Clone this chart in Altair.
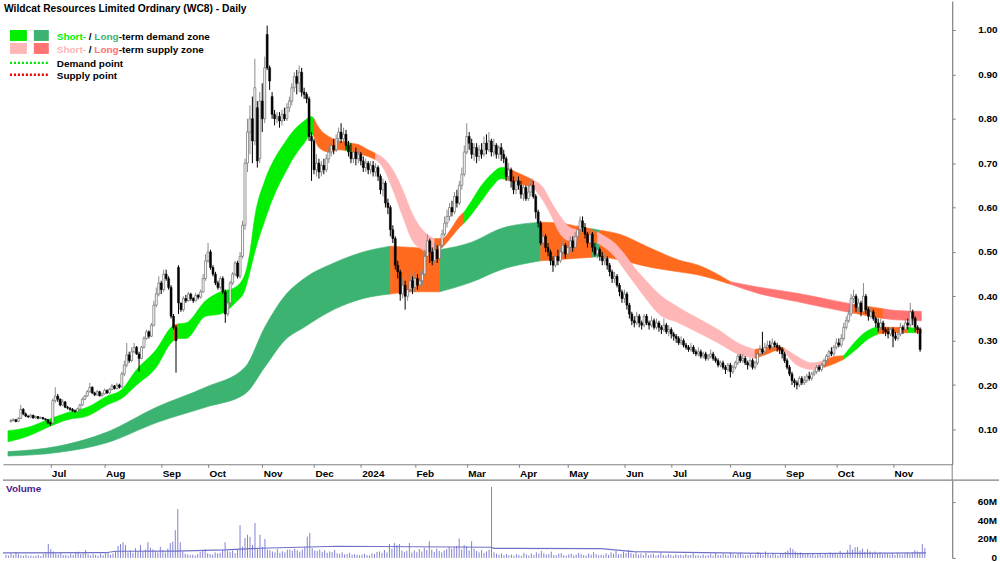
import altair as alt
import pandas as pd

# ---------------- data (prices in cents, volume in millions) ----------------
OPEN = [11.8, 12.0, 12.2, 11.8, 12.5, 14.5, 13.5, 13.0, 12.8, 13.2,
        12.6, 12.9, 12.5, 12.7, 12.4, 12.2, 11.5, 11.4, 16.5, 17.5,
        16.8, 15.5, 16.2, 15.0, 14.8, 14.5, 14.2, 14.0, 14.6, 15.5,
        16.8, 17.5, 18.5, 19.5, 18.2, 17.8, 18.5, 17.6, 18.0, 18.8,
        18.2, 19.0, 19.8, 19.2, 20.0, 19.6, 22.5, 24.5, 26.8, 25.5,
        27.5, 28.5, 27.0, 26.0, 28.5, 30.5, 32.0, 31.0, 33.5, 38.0,
        40.5, 43.0, 41.5, 45.0, 44.0, 42.0, 35.5, 33.0, 46.5, 38.5,
        37.0, 39.5, 39.0, 40.5, 39.5, 39.0, 40.2, 39.8, 41.0, 44.0,
        48.0, 50.0, 46.5, 45.0, 43.0, 42.0, 44.0, 41.0, 36.0, 38.5,
        43.0, 45.0, 47.5, 44.5, 49.0, 56.0, 70.0, 77.0, 80.0, 75.0,
        82.5, 71.0, 84.0, 80.0, 99.0, 91.5, 85.0, 81.0, 80.0, 80.5,
        79.5, 81.0, 80.0, 82.5, 84.0, 87.0, 89.5, 88.0, 90.5, 86.0,
        85.5, 84.5, 76.0, 75.0, 68.5, 70.0, 68.0, 69.5, 68.5, 71.0,
        72.5, 74.0, 73.0, 75.5, 77.0, 75.5, 76.5, 74.0, 72.5, 71.0,
        72.5, 71.0, 72.0, 70.5, 69.0, 70.0, 68.5, 69.5, 68.0, 69.0,
        67.0, 64.0, 65.5, 61.0, 60.0, 55.0, 53.0, 47.0, 45.5, 40.5,
        42.5, 40.0, 41.5, 43.5, 42.0, 44.0, 42.5, 43.5, 45.0, 49.0,
        52.5, 50.0, 48.0, 50.5, 48.5, 51.5, 54.0, 56.5, 58.0, 60.0,
        59.0, 62.5, 61.0, 65.0, 67.5, 72.5, 76.0, 74.5, 72.0, 73.5,
        71.5, 73.0, 72.0, 74.5, 73.0, 75.0, 72.5, 74.0, 72.0, 73.5,
        72.0, 71.0, 67.0, 68.5, 66.0, 64.0, 66.0, 65.0, 63.0, 64.5,
        62.0, 63.5, 65.0, 62.5, 59.0, 56.5, 52.0, 53.5, 51.0, 50.0,
        48.0, 47.0, 49.0, 48.0, 50.0, 51.5, 49.5, 51.0, 52.5, 51.0,
        53.5, 55.0, 57.0, 55.5, 54.0, 52.0, 54.0, 51.0, 49.5, 50.5,
        49.0, 48.0, 48.5, 47.0, 45.5, 44.0, 44.5, 42.5, 41.0, 39.5,
        40.5, 38.0, 36.0, 34.5, 34.0, 35.5, 34.0, 33.5, 35.5, 34.0,
        33.5, 34.5, 33.0, 34.0, 33.0, 32.5, 33.5, 32.0, 32.5, 31.5,
        31.0, 30.5, 29.5, 30.0, 29.0, 28.5, 28.0, 28.5, 27.5, 27.0,
        27.5, 26.5, 27.0, 26.0, 26.5, 27.0, 26.0, 25.5, 24.5, 25.0,
        24.0, 23.5, 24.5, 23.0, 24.0, 25.0, 26.5, 25.5, 26.0, 25.0,
        24.5, 25.5, 24.0, 25.0, 27.0, 28.0, 27.5, 28.5, 29.0, 28.5,
        29.5, 29.0, 28.5, 28.0, 27.0, 25.5, 24.0, 22.5, 21.0, 20.5,
        20.0, 21.5, 20.5, 21.0, 22.0, 21.5, 22.5, 23.0, 24.0, 23.5,
        24.5, 25.5, 26.5, 27.5, 27.0, 28.5, 29.5, 29.0, 30.5, 33.0,
        34.5, 36.0, 39.5, 40.0, 37.5, 38.5, 36.5, 40.0, 37.0, 35.5,
        36.5, 35.0, 34.0, 33.0, 34.0, 32.5, 32.0, 31.5, 32.5, 31.0,
        30.5, 31.5, 33.0, 32.5, 34.0, 33.5, 36.5, 35.0, 33.0, 32.5]
HIGH = [12.4, 12.5, 12.3, 12.8, 15.5, 14.8, 13.8, 13.2, 13.5, 13.3,
        13.1, 13.0, 12.9, 12.8, 12.5, 12.3, 11.8, 17.0, 19.5, 18.0,
        17.0, 16.8, 16.4, 15.3, 15.0, 14.8, 14.5, 14.9, 15.8, 17.2,
        17.8, 18.9, 20.5, 19.7, 18.5, 18.9, 18.7, 18.3, 19.2, 19.0,
        19.3, 20.3, 20.0, 20.5, 20.3, 23.0, 25.5, 29.5, 27.5, 28.5,
        29.5, 28.8, 27.5, 28.8, 31.0, 32.5, 32.3, 34.0, 39.0, 42.0,
        44.5, 43.5, 46.0, 46.0, 44.5, 42.5, 36.0, 33.5, 47.0, 38.5,
        40.0, 40.3, 41.0, 40.8, 39.8, 40.8, 40.5, 41.5, 45.0, 49.5,
        52.0, 50.5, 47.0, 45.5, 43.5, 44.5, 44.5, 41.5, 39.0, 43.5,
        45.5, 48.0, 48.0, 50.0, 57.0, 71.0, 80.0, 83.0, 85.0, 93.5,
        84.0, 86.0, 88.0, 94.0, 101.0, 92.0, 86.0, 82.0, 81.5, 81.5,
        82.0, 82.5, 83.5, 85.0, 88.0, 90.5, 91.0, 92.0, 91.5, 87.0,
        86.0, 85.0, 77.0, 75.5, 72.0, 71.0, 70.5, 71.0, 72.0, 73.5,
        75.0, 75.5, 76.5, 78.0, 79.0, 78.0, 77.5, 75.0, 74.5, 73.5,
        73.5, 73.0, 72.5, 71.5, 71.0, 70.5, 70.5, 70.5, 70.0, 69.5,
        67.5, 66.5, 66.0, 62.0, 60.5, 56.0, 53.5, 48.0, 46.0, 44.0,
        43.5, 44.5, 45.0, 44.5, 45.5, 45.0, 45.5, 46.0, 50.5, 54.0,
        53.0, 51.0, 52.0, 51.5, 52.5, 55.0, 58.0, 59.5, 61.0, 61.5,
        63.5, 64.0, 66.0, 69.0, 74.0, 79.0, 77.0, 75.5, 74.5, 74.5,
        74.0, 74.5, 76.0, 76.5, 77.0, 75.5, 75.5, 74.5, 74.0, 74.5,
        73.0, 71.5, 70.0, 69.0, 67.0, 67.0, 67.0, 66.0, 65.5, 65.0,
        65.0, 66.5, 66.0, 63.0, 59.5, 57.0, 54.5, 54.0, 52.0, 50.5,
        49.0, 50.0, 50.5, 51.0, 52.5, 52.0, 52.0, 53.5, 53.5, 54.5,
        56.0, 58.0, 58.0, 56.5, 54.5, 55.0, 54.5, 52.0, 51.5, 51.0,
        50.0, 49.5, 49.0, 47.5, 46.0, 45.5, 45.0, 43.0, 41.5, 41.5,
        41.0, 38.5, 36.5, 35.5, 36.5, 36.0, 34.5, 36.0, 36.0, 34.5,
        35.5, 35.0, 35.0, 34.5, 33.5, 35.0, 34.0, 33.5, 33.0, 32.0,
        31.5, 31.0, 31.0, 30.5, 29.5, 29.0, 29.5, 29.0, 28.0, 28.5,
        28.0, 27.5, 27.5, 27.0, 28.0, 27.5, 26.5, 26.0, 25.5, 25.5,
        24.5, 25.0, 25.0, 24.5, 25.5, 27.0, 27.0, 27.0, 26.5, 25.5,
        26.0, 26.0, 25.5, 27.5, 29.0, 32.0, 29.5, 30.0, 30.0, 30.5,
        30.0, 29.5, 29.0, 28.5, 27.5, 26.0, 24.5, 23.0, 21.5, 21.0,
        22.0, 22.0, 22.0, 22.5, 23.0, 23.0, 23.5, 24.5, 24.5, 25.0,
        26.0, 27.0, 28.0, 28.5, 29.0, 30.5, 30.5, 31.5, 34.0, 35.5,
        37.0, 40.5, 41.5, 40.5, 39.5, 39.0, 43.0, 40.5, 37.5, 37.5,
        37.0, 35.5, 35.0, 35.0, 34.5, 33.0, 33.0, 33.0, 33.0, 32.0,
        32.5, 34.0, 33.5, 35.0, 35.0, 38.5, 37.0, 35.5, 33.5, 33.0]
LOW = [11.5, 11.8, 11.6, 11.7, 12.3, 13.2, 12.8, 12.6, 12.6, 12.4,
       12.4, 12.3, 12.4, 12.2, 12.0, 11.2, 10.8, 11.2, 16.0, 16.2,
       15.2, 15.3, 14.8, 14.5, 14.2, 14.0, 13.8, 13.9, 14.4, 15.3,
       16.6, 17.3, 18.3, 18.0, 17.5, 17.6, 17.4, 17.4, 17.8, 18.0,
       18.0, 18.8, 19.0, 19.0, 19.2, 19.4, 22.0, 24.0, 25.0, 25.2,
       27.2, 26.8, 23.0, 25.8, 28.2, 30.2, 30.5, 30.8, 33.2, 37.5,
       40.0, 40.5, 41.0, 43.5, 41.5, 35.0, 32.5, 22.8, 36.0, 36.5,
       36.5, 38.5, 38.8, 39.0, 38.5, 38.8, 39.3, 39.5, 40.8, 43.5,
       47.5, 46.0, 44.5, 42.5, 41.5, 41.5, 40.5, 34.0, 35.5, 38.0,
       42.5, 44.5, 44.0, 44.0, 48.5, 55.0, 68.0, 72.0, 70.0, 74.0,
       69.0, 70.0, 77.0, 79.0, 91.0, 86.5, 80.0, 78.5, 79.0, 78.0,
       78.5, 79.5, 79.5, 81.5, 83.0, 86.0, 85.5, 86.0, 85.0, 84.5,
       83.5, 75.0, 66.0, 67.5, 67.0, 66.5, 67.0, 67.5, 68.0, 70.0,
       71.5, 72.0, 72.5, 74.5, 74.5, 74.0, 73.0, 71.5, 70.0, 70.0,
       69.5, 70.0, 69.5, 68.0, 68.0, 67.5, 67.5, 67.0, 67.0, 66.0,
       63.0, 62.5, 60.0, 58.5, 53.5, 52.0, 46.0, 44.0, 39.0, 39.5,
       37.0, 39.0, 41.0, 40.5, 41.0, 41.5, 41.5, 42.5, 44.5, 48.0,
       47.5, 47.0, 47.5, 47.5, 48.0, 51.0, 53.5, 55.5, 57.0, 58.0,
       58.5, 60.0, 60.5, 64.0, 67.0, 72.0, 73.0, 71.0, 70.5, 70.0,
       70.5, 71.0, 71.5, 72.0, 72.5, 71.5, 71.5, 71.0, 71.0, 70.5,
       70.0, 66.0, 66.0, 64.5, 63.0, 63.0, 64.0, 62.0, 61.5, 61.5,
       61.5, 62.5, 62.0, 57.5, 55.5, 51.5, 51.0, 50.0, 49.0, 47.0,
       45.5, 46.5, 47.0, 47.5, 49.0, 48.5, 48.5, 50.0, 50.0, 50.5,
       52.5, 54.0, 54.5, 53.0, 51.0, 51.0, 50.0, 49.0, 48.5, 48.0,
       47.0, 47.0, 46.0, 44.5, 43.0, 43.0, 42.0, 40.0, 38.5, 38.5,
       37.0, 35.0, 33.5, 33.0, 33.5, 33.0, 32.5, 33.0, 33.5, 32.5,
       33.0, 32.5, 32.5, 32.0, 31.5, 32.0, 31.5, 31.0, 30.5, 30.0,
       29.5, 29.0, 29.0, 28.5, 28.0, 27.5, 27.5, 27.0, 26.5, 26.5,
       26.0, 26.0, 25.5, 25.5, 26.0, 25.5, 25.0, 24.0, 24.0, 23.5,
       22.5, 23.0, 21.7, 22.5, 23.5, 24.5, 25.0, 25.0, 24.5, 23.5,
       24.0, 23.5, 23.5, 24.5, 26.5, 27.0, 27.0, 28.0, 28.0, 28.0,
       28.5, 27.5, 27.0, 26.0, 25.0, 23.5, 22.0, 20.0, 19.5, 19.0,
       19.5, 20.0, 20.0, 20.5, 21.0, 21.0, 22.0, 22.5, 23.0, 23.0,
       24.0, 25.0, 26.0, 26.5, 26.5, 28.0, 28.5, 28.5, 30.0, 32.5,
       34.0, 35.5, 38.5, 36.5, 36.5, 35.5, 36.0, 36.0, 34.5, 35.0,
       34.5, 33.0, 32.0, 32.5, 31.5, 31.0, 30.5, 31.0, 28.5, 30.0,
       30.0, 31.0, 31.5, 32.0, 32.5, 33.0, 33.5, 32.0, 31.5, 27.5]
CLOSE = [12.0, 12.2, 11.8, 12.5, 14.5, 13.5, 13.0, 12.8, 13.2, 12.6,
         12.9, 12.5, 12.7, 12.4, 12.2, 11.5, 11.2, 16.5, 17.5, 16.8,
         15.5, 16.2, 15.0, 14.8, 14.5, 14.2, 14.0, 14.6, 15.5, 16.8,
         17.5, 18.5, 19.5, 18.2, 17.8, 18.5, 17.6, 18.0, 18.8, 18.2,
         19.0, 19.8, 19.2, 20.0, 19.5, 22.5, 24.5, 26.8, 25.5, 27.5,
         28.5, 27.0, 26.0, 28.5, 30.5, 32.0, 31.0, 33.5, 38.0, 40.5,
         43.0, 41.5, 45.0, 44.0, 42.0, 35.5, 33.0, 30.0, 38.5, 37.0,
         39.5, 39.0, 40.5, 39.5, 39.0, 40.2, 39.8, 41.0, 44.0, 48.0,
         50.0, 46.5, 45.0, 43.0, 42.0, 44.0, 41.0, 36.0, 38.5, 43.0,
         45.0, 47.5, 44.5, 49.0, 56.0, 70.0, 77.0, 80.0, 75.0, 87.0,
         70.5, 84.0, 80.0, 91.5, 91.5, 88.5, 81.0, 80.0, 80.5, 79.5,
         81.0, 80.0, 82.5, 84.0, 87.0, 89.5, 88.0, 90.5, 86.0, 85.5,
         84.5, 76.0, 75.0, 68.5, 70.0, 68.0, 69.5, 68.5, 71.0, 72.5,
         74.0, 73.0, 75.5, 77.0, 75.5, 76.5, 74.0, 72.5, 71.0, 72.5,
         71.0, 72.0, 70.5, 69.0, 70.0, 68.5, 69.5, 68.0, 69.0, 67.0,
         64.0, 65.5, 61.0, 60.0, 55.0, 53.0, 47.0, 45.5, 40.5, 42.5,
         40.0, 41.5, 43.5, 42.0, 44.0, 42.5, 43.5, 45.0, 49.0, 52.5,
         50.0, 48.0, 50.5, 48.5, 51.5, 54.0, 56.5, 58.0, 60.0, 59.0,
         62.5, 61.0, 65.0, 67.5, 72.5, 76.0, 74.5, 72.0, 73.5, 71.5,
         73.0, 72.0, 74.5, 73.0, 75.0, 72.5, 74.0, 72.0, 73.5, 72.0,
         71.0, 67.0, 68.5, 66.0, 64.0, 66.0, 65.0, 63.0, 64.5, 62.0,
         63.5, 65.0, 62.5, 59.0, 56.5, 52.0, 53.5, 51.0, 50.0, 48.0,
         47.0, 49.0, 48.0, 50.0, 51.5, 49.5, 51.0, 52.5, 51.0, 53.5,
         55.0, 57.0, 55.5, 54.0, 52.0, 54.0, 51.0, 49.5, 50.5, 49.0,
         48.0, 48.5, 47.0, 45.5, 44.0, 44.5, 42.5, 41.0, 39.5, 40.5,
         38.0, 36.0, 34.5, 34.0, 35.5, 34.0, 33.5, 35.5, 34.0, 33.5,
         34.5, 33.0, 34.0, 33.0, 32.5, 33.5, 32.0, 32.5, 31.5, 31.0,
         30.5, 29.5, 30.0, 29.0, 28.5, 28.0, 28.5, 27.5, 27.0, 27.5,
         26.5, 27.0, 26.0, 26.5, 27.0, 26.0, 25.5, 24.5, 25.0, 24.0,
         23.5, 24.5, 23.0, 24.0, 25.0, 26.5, 25.5, 26.0, 25.0, 24.5,
         25.5, 24.0, 25.0, 27.0, 28.0, 27.5, 28.5, 29.0, 28.5, 29.5,
         29.0, 28.5, 28.0, 27.0, 25.5, 24.0, 22.5, 21.0, 20.5, 20.0,
         21.5, 20.5, 21.0, 22.0, 21.5, 22.5, 23.0, 24.0, 23.5, 24.5,
         25.5, 26.5, 27.5, 27.0, 28.5, 29.5, 29.0, 30.5, 33.0, 34.5,
         36.0, 39.5, 40.0, 37.5, 38.5, 36.5, 40.0, 37.0, 35.5, 36.5,
         35.0, 34.0, 33.0, 34.0, 32.5, 32.0, 31.5, 32.5, 31.0, 30.5,
         31.5, 33.0, 32.5, 34.0, 33.5, 36.5, 35.0, 33.0, 32.5, 28.0]
VOLUME = [3.2, 2.5, 4.8, 3.0, 6.5, 4.0, 2.8, 2.2, 3.5, 2.0,
          2.6, 1.8, 2.4, 3.1, 2.0, 4.2, 5.0, 15.0, 9.5, 7.0,
          4.5, 3.8, 5.2, 2.9, 3.3, 2.4, 4.6, 3.0, 5.5, 6.8,
          4.2, 5.0, 8.5, 3.9, 2.7, 4.1, 3.2, 2.5, 4.4, 3.0,
          5.2, 6.0, 3.4, 4.8, 7.5, 13.0, 15.0, 17.0, 14.0, 6.2,
          8.0, 5.5, 10.5, 7.0, 14.0, 6.5, 8.8, 17.0, 11.0, 9.2,
          7.5, 6.0, 12.0, 8.5, 5.8, 10.0, 16.0, 17.5, 30.0, 52.8,
          17.0, 7.0, 4.5, 3.8, 2.9, 3.5, 2.6, 4.0, 6.5, 8.0,
          9.5, 5.0, 4.2, 3.5, 6.0, 4.8, 5.5, 9.0, 17.0, 7.5,
          6.5, 8.0, 5.2, 9.5, 35.5, 12.0, 21.5, 25.0, 22.7, 14.0,
          37.7, 10.0, 25.0, 12.0, 20.5, 9.0, 8.5, 7.0, 6.0, 9.5,
          5.5, 7.2, 6.0, 8.8, 9.0, 7.5, 10.0, 8.2, 6.8, 9.0,
          12.0, 23.0, 27.0, 10.5, 8.0, 7.5, 9.0, 6.5, 8.0, 5.5,
          7.0, 6.2, 8.5, 5.0, 4.5, 6.0, 3.8, 4.2, 5.5, 3.5,
          4.0, 3.2, 2.8, 3.6, 4.5, 3.0, 2.6, 5.0, 4.2, 6.5,
          7.0, 5.5, 8.5, 6.0, 15.0, 10.0, 16.0, 14.0, 15.0, 8.0,
          6.5, 7.5, 16.0, 5.8, 8.0, 6.2, 9.5, 7.0, 11.0, 8.5,
          18.0, 9.0, 6.5, 10.0, 7.5, 6.0, 8.0, 9.5, 12.0, 10.0,
          11.5, 13.0, 21.0, 9.0, 14.0, 12.5, 8.0, 18.0, 10.0, 7.5,
          6.0, 8.5, 5.5, 7.0, 9.0, 76.8, 6.0, 4.5, 3.5, 5.0,
          3.0, 4.2, 2.8, 3.5, 2.5, 4.0, 3.2, 2.2, 5.5, 3.8,
          2.6, 4.8, 3.0, 6.0, 4.5, 7.5, 5.0, 3.5, 4.2, 6.8,
          3.2, 2.8, 4.5, 5.2, 3.0, 2.4, 3.8, 4.6, 2.7, 3.5,
          5.5, 4.0, 3.0, 2.5, 4.8, 3.6, 6.2, 4.0, 2.9, 3.4,
          2.8, 5.0, 3.2, 6.0, 4.5, 7.5, 3.8, 4.2, 6.5, 5.2,
          8.5, 5.5, 4.0, 6.2, 3.5, 4.8, 3.0, 5.5, 2.8, 3.6,
          4.5, 2.6, 3.4, 5.8, 3.0, 2.5, 4.2, 3.2, 2.2, 3.8,
          2.9, 3.5, 2.4, 4.0, 2.8, 3.2, 5.0, 2.6, 3.0, 2.2,
          3.6, 2.5, 3.0, 4.4, 2.4, 5.5, 3.2, 2.8, 4.6, 3.5,
          2.6, 6.0, 3.8, 2.9, 4.5, 5.8, 3.4, 2.5, 3.2, 4.0,
          2.8, 3.5, 6.5, 4.0, 3.2, 7.0, 4.5, 3.0, 5.5, 3.8,
          2.7, 4.2, 5.0, 6.5, 8.0, 11.0, 9.5, 7.0, 5.5, 6.0,
          4.5, 3.6, 5.0, 3.2, 4.4, 2.8, 3.8, 5.2, 3.0, 4.6,
          3.4, 6.0, 4.2, 5.5, 3.6, 7.5, 5.0, 4.0, 8.5, 14.0,
          9.0, 11.5, 12.0, 8.0, 10.0, 6.5, 9.5, 7.0, 5.5, 6.8,
          4.5, 6.2, 3.8, 5.0, 4.2, 3.5, 4.8, 3.2, 5.5, 4.0,
          3.6, 4.8, 6.0, 4.2, 5.5, 8.5, 7.0, 6.0, 15.0, 10.5]

# volume moving-average line (trading-day index, millions)
VMA_I = [-1.2, 40, 44, 68, 88, 102, 133, 195, 196, 239, 252, 280, 320, 369.5]
VMA_V = [5.4, 5.6, 7.2, 7.4, 8.6, 10.4, 12.6, 11.5, 10.4, 10.0, 6.8, 5.6, 4.6, 5.4]

# volume axis ticks (millions) and labels
VOL_TICKS = [0, 20, 40, 60]
VOL_LABELS = ["0", "20M", "40M", "60M"]

# month ticks (trading-day index of first session) and labels
MONTH_IDX = [16, 38, 61, 80, 102, 123, 142, 164, 185, 206, 226, 249, 268, 292, 314, 335, 358]
MONTH_LBL = ["Jul", "Aug", "Sep", "Oct", "Nov", "Dec", "2024", "Feb", "Mar",
             "Apr", "May", "Jun", "Jul", "Aug", "Sep", "Oct", "Nov"]

# short-term zone: index, lower edge, upper edge, zone type of the run starting here
ST_I = [-1.2, 7, 15, 23, 31, 39, 45, 51, 59, 65, 66, 68, 71, 79, 85, 91, 95, 97, 99, 103,
        107, 111, 115, 119, 122, 123, 125, 129, 133, 136, 138, 141, 145, 148, 151, 155, 159,
        163, 167, 170, 172, 175, 179, 182, 184, 187, 191, 195, 199, 201, 205, 209, 212, 216,
        219, 223, 227, 230, 234, 238, 241, 245, 249, 253, 257, 263, 271, 279, 287, 295, 302,
        307, 311, 314, 319, 325, 330, 335, 338, 343, 347, 352, 357, 363, 364, 367, 369.5]
ST_LO = [0.072, 0.085, 0.105, 0.122, 0.13, 0.155, 0.17, 0.20, 0.24, 0.295, 0.30, 0.305, 0.305,
         0.355, 0.36, 0.385, 0.415, 0.455, 0.50, 0.57, 0.63, 0.675, 0.715, 0.745, 0.765, 0.76,
         0.735, 0.725, 0.73, 0.728, 0.727, 0.722, 0.715, 0.708, 0.69, 0.64, 0.58, 0.525, 0.505,
         0.50, 0.502, 0.51, 0.535, 0.555, 0.565, 0.585, 0.615, 0.645, 0.665, 0.663, 0.655, 0.65,
         0.645, 0.615, 0.585, 0.54, 0.525, 0.525, 0.525, 0.52, 0.51, 0.49, 0.46, 0.43, 0.40,
         0.36, 0.34, 0.318, 0.295, 0.27, 0.26, 0.27, 0.278, 0.275, 0.245, 0.235, 0.24, 0.25,
         0.258, 0.28, 0.30, 0.315, 0.318, 0.318, 0.318, 0.318, 0.318]
ST_HI = [0.097, 0.105, 0.122, 0.138, 0.15, 0.175, 0.19, 0.235, 0.28, 0.33, 0.335, 0.338, 0.34,
         0.39, 0.41, 0.42, 0.45, 0.50, 0.58, 0.66, 0.71, 0.745, 0.775, 0.795, 0.805, 0.80,
         0.78, 0.76, 0.75, 0.748, 0.745, 0.742, 0.73, 0.722, 0.712, 0.685, 0.64, 0.585, 0.55,
         0.535, 0.53, 0.53, 0.555, 0.58, 0.59, 0.615, 0.65, 0.675, 0.69, 0.69, 0.68, 0.67,
         0.662, 0.645, 0.615, 0.58, 0.555, 0.55, 0.55, 0.545, 0.535, 0.52, 0.495, 0.465, 0.44,
         0.405, 0.375, 0.35, 0.325, 0.295, 0.28, 0.285, 0.287, 0.283, 0.265, 0.25, 0.255, 0.265,
         0.266, 0.30, 0.32, 0.332, 0.33, 0.33, 0.33, 0.328, 0.327]
ST_ZONE = ["sd"] * 10 + ["tr", "sd", "sd", "sd", "sd", "sd", "sd", "sd", "sd", "sd",
           "sd", "sd", "sd", "sd", "sd", "tr", "tr", "tr", "tr", "sd", "tr", "tr", "tr",
           "ss", "ss", "ss", "ss", "ss", "ss", "ss", "tr", "tr", "tr", "tr", "sd", "sd",
           "sd", "sd", "sd", "tr", "tr", "tr", "ss", "ss", "ss", "ss", "ss", "tr", "tr",
           "ss", "ss", "ss", "ss", "ss", "ss", "ss", "ss", "ss", "ss", "ss", "tr", "tr",
           "tr", "ss", "ss", "ss", "tr", "tr", "sd", "sd", "sd", "tr", "tr", "tr", "sd",
           "tr", "tr"]

# long-term zone
LT_I = [-1.2, 19, 39, 59, 79, 95, 103, 111, 119, 131, 143, 154, 163, 174, 187, 199, 215, 223,
        231, 236, 239, 247, 259, 271, 279, 292, 303, 319, 339, 342, 354, 359, 369.5]
LT_LO = [0.04, 0.048, 0.07, 0.115, 0.15, 0.18, 0.24, 0.30, 0.33, 0.37, 0.395, 0.405, 0.41,
         0.41, 0.432, 0.46, 0.48, 0.483, 0.486, 0.488, 0.49, 0.482, 0.466, 0.455, 0.448,
         0.427, 0.407, 0.388, 0.365, 0.362, 0.35, 0.347, 0.345]
LT_HI = [0.05, 0.062, 0.094, 0.15, 0.195, 0.24, 0.33, 0.40, 0.44, 0.475, 0.50, 0.513, 0.51,
         0.505, 0.522, 0.553, 0.567, 0.565, 0.556, 0.552, 0.549, 0.54, 0.51, 0.482, 0.47,
         0.433, 0.421, 0.407, 0.385, 0.382, 0.372, 0.368, 0.366]
LT_ZONE = ["ld"] * 11 + ["tr", "tr", "ld", "ld", "ld", "tr", "tr", "tr", "ld", "tr", "tr",
           "tr", "tr", "tr", "ls", "ls", "ls", "ls", "tr", "ls", "ls", "ls"]

# ---------------- tables ----------------
n = min(len(OPEN), len(HIGH), len(LOW), len(CLOSE))
candles = pd.DataFrame({
    "i": list(range(n)),
    "o": [v / 100 for v in OPEN[:n]],
    "h": [v / 100 for v in HIGH[:n]],
    "l": [v / 100 for v in LOW[:n]],
    "c": [v / 100 for v in CLOSE[:n]],
})
candles["dir"] = ["up" if c >= o else "down" for o, c in zip(candles["o"], candles["c"])]

nv = len(VOLUME)
vol = pd.DataFrame({"i": list(range(nv)), "v": VOLUME, "z": [0] * nv})
vma = pd.DataFrame({"i": VMA_I, "v": VMA_V})
vticks = pd.DataFrame({"v": VOL_TICKS, "t": VOL_LABELS})


def band_rows(I, LO, HI, Z, name):
    rows = []
    m = min(len(I), len(LO), len(HI), len(Z))
    j, seg = 0, 0
    while j < m - 1:
        k = j
        while k + 1 < m - 1 and Z[k + 1] == Z[j]:
            k += 1
        for q in range(j, k + 2):
            rows.append({"i": I[q], "lo": LO[q], "hi": HI[q], "zone": Z[j], "seg": f"{name}{seg}"})
        seg += 1
        j = k + 1
    return pd.DataFrame(rows)


st_df = band_rows(ST_I, ST_LO, ST_HI, ST_ZONE, "s")
lt_df = band_rows(LT_I, LT_LO, LT_HI, LT_ZONE, "l")

# ---------------- scales / axes ----------------
W, H, VH = 953, 465, 78
FONT = "Liberation Sans"
xscale = alt.Scale(domain=[-1.2, 380], nice=False, zero=False)
yscale = alt.Scale(domain=[0.02146, 1.0651], nice=False, zero=False)
vscale = alt.Scale(domain=[0, 84], nice=False, zero=False)
zone_scale = alt.Scale(domain=["sd", "ld", "ss", "ls", "tr"],
                       range=["#00ee00", "#3cb371", "#ffb6b6", "#ff7373", "#ff6a1f"])

label_expr = ("[" + ",".join(f"'{m}'" for m in MONTH_LBL) + "][indexof(["
              + ",".join(str(v) for v in MONTH_IDX) + "], datum.value)]")
xaxis = alt.Axis(values=MONTH_IDX, labelExpr=label_expr, title=None, orient="bottom",
                 labelAlign="left", labelOffset=1, labelBaseline="middle", labelPadding=6,
                 tickSize=3, labelFlush=False, labelOverlap=False, grid=False)
yaxis = alt.Axis(values=[0.1, 0.2, 0.3, 0.4, 0.5, 0.6, 0.7, 0.8, 0.9, 1.0], format=".2f",
                 orient="right", title=None, labelAlign="right", labelBaseline="middle",
                 labelPadding=42, tickSize=3, grid=False, labelFlush=False, labelOverlap=False)
vaxis = alt.Axis(values=VOL_TICKS, orient="right", title=None, labels=False, tickSize=3,
                 grid=False)

X = alt.X("i:Q", scale=xscale, axis=xaxis)
XS = alt.X("i:Q", scale=xscale)

long_area = alt.Chart(lt_df).mark_area(interpolate="monotone", strokeWidth=0.6).encode(
    x=X, y=alt.Y("lo:Q", scale=yscale, axis=yaxis), y2="hi:Q",
    color=alt.Color("zone:N", scale=zone_scale, legend=None),
    stroke=alt.Stroke("zone:N", scale=zone_scale, legend=None),
    detail="seg:N")
short_area = alt.Chart(st_df).mark_area(interpolate="monotone", strokeWidth=0.6).encode(
    x=XS, y=alt.Y("lo:Q", scale=yscale), y2="hi:Q",
    color=alt.Color("zone:N", scale=zone_scale, legend=None),
    stroke=alt.Stroke("zone:N", scale=zone_scale, legend=None),
    detail="seg:N")

cbase = alt.Chart(candles)
wick_up = cbase.transform_filter("datum.dir == 'up'").mark_rule(color="#8a8a8a", strokeWidth=1).encode(
    x=XS, y=alt.Y("l:Q", scale=yscale), y2="h:Q")
wick_dn = cbase.transform_filter("datum.dir == 'down'").mark_rule(color="#000000", strokeWidth=1).encode(
    x=XS, y=alt.Y("l:Q", scale=yscale), y2="h:Q")
body_up = cbase.transform_filter("datum.dir == 'up'").mark_bar(
    size=2, fill="#ffffff", stroke="#6a6a6a", strokeWidth=0.7).encode(
    x=XS, y=alt.Y("o:Q", scale=yscale), y2="c:Q")
body_dn = cbase.transform_filter("datum.dir == 'down'").mark_bar(
    size=2, fill="#000000", stroke="#000000", strokeWidth=0.5).encode(
    x=XS, y=alt.Y("o:Q", scale=yscale), y2="c:Q")

one = pd.DataFrame({"k": [0]})


def txt(s, x, y, color="#000000", size=10):
    return alt.Chart(one).mark_text(text=s, align="left", baseline="alphabetic", font=FONT,
                                    fontWeight="bold", fontSize=size, color=color).encode(
        x=alt.value(x), y=alt.value(y))


def box(x1, x2, y1, y2, color):
    return alt.Chart(one).mark_rect(color=color).encode(
        x=alt.value(x1), x2=alt.value(x2), y=alt.value(y1), y2=alt.value(y2))


def dots(y, color):
    return alt.Chart(one).mark_rule(color=color, strokeWidth=2.5, strokeDash=[2, 2]).encode(
        x=alt.value(7), x2=alt.value(45), y=alt.value(y))


decor = [
    txt("Wildcat Resources Limited Ordinary (WC8) - Daily", 1, 11, size=10.3),
    box(7, 24, 29, 40, "#00ee00"), box(31, 46, 29, 40, "#3cb371"),
    box(7, 24, 42, 53, "#ffb6b6"), box(31, 46, 42, 53, "#ff7373"),
    txt("Short-", 54, 39, "#00ee00"), txt("/", 86.2, 39), txt("Long", 91.7, 39, "#3cb371"),
    txt("-term demand zone", 116.1, 39),
    txt("Short-", 54, 52.5, "#ffb6b6"), txt("/", 86.2, 52.5), txt("Long", 91.7, 52.5, "#ff7373"),
    txt("-term supply zone", 116.1, 52.5),
    dots(62, "#00dd00"), dots(74, "#ee0000"),
    txt("Demand point", 54, 66), txt("Supply point", 54, 78.5),
    alt.Chart(one).mark_rule(color="#808080").encode(
        x=alt.value(W), y=alt.value(H), y2=alt.value(H + 16)),
]

price = alt.layer(long_area, short_area, wick_up, wick_dn, body_up, body_dn, *decor).properties(
    width=W, height=H)

vbars = alt.Chart(vol).mark_rule(color="#8282d2", strokeWidth=1).encode(
    x=alt.X("i:Q", scale=xscale, axis=None), y=alt.Y("v:Q", scale=vscale, axis=vaxis), y2="z:Q")
vline = alt.Chart(vma).mark_line(color="#7070c8", strokeWidth=1.2).encode(
    x=alt.X("i:Q", scale=xscale), y=alt.Y("v:Q", scale=vscale))
vtick_text = alt.Chart(vticks).mark_text(align="right", baseline="middle", font=FONT,
                                         fontWeight="bold", fontSize=10, color="#000000").encode(
    x=alt.value(998), y=alt.Y("v:Q", scale=vscale), text="t:N")
vtop = alt.Chart(one).mark_rule(color="#808080", strokeWidth=1.2).encode(
    x=alt.value(0), x2=alt.value(1000), y=alt.value(0))
vlabel = txt("Volume", 3, 12, "#4b1c8c")

volume = alt.layer(vbars, vline, vtick_text, vtop, vlabel).properties(width=W, height=VH)

chart = alt.vconcat(price, volume, spacing=16, bounds="flush").properties(
    padding=0
).configure_view(stroke=None).configure_axis(
    domainColor="#808080", tickColor="#808080", labelFont=FONT, labelFontWeight="bold",
    labelFontSize=10, labelColor="#000000", grid=False, domainWidth=1.2
)

chart.save("out.html", embed_options={"renderer": "svg", "actions": False})
